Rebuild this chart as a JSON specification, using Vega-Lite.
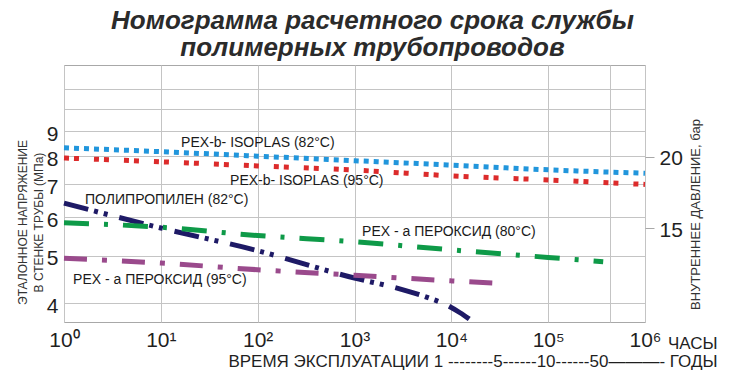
{
  "$schema": "https://vega.github.io/schema/vega-lite/v6.json",
  "width": 581,
  "height": 257,
  "autosize": {"type": "none"},
  "padding": {"left": 64, "top": 65, "right": 102, "bottom": 66},
  "background": "white",
  "config": {
    "view": {"stroke": "#a8a8a8", "strokeWidth": 1},
    "font": "Liberation Sans"
  },
  "title": {
    "text": ["Номограмма расчетного срока службы", "полимерных трубопроводов"],
    "font": "Liberation Sans",
    "fontSize": 26,
    "fontWeight": "bold",
    "fontStyle": "italic",
    "color": "#2b2b2b",
    "lineHeight": 27,
    "anchor": "middle",
    "frame": "group",
    "baseline": "bottom",
    "offset": 6,
    "dx": 18,
    "dy": 28
  },
  "datasets": {
    "curves": [
      {"series": "PEX-b ISOPLAS 82", "t": 1, "s": 8.32},
      {"series": "PEX-b ISOPLAS 82", "t": 10, "s": 8.17},
      {"series": "PEX-b ISOPLAS 82", "t": 100, "s": 8.0},
      {"series": "PEX-b ISOPLAS 82", "t": 1000, "s": 7.83},
      {"series": "PEX-b ISOPLAS 82", "t": 10000, "s": 7.67},
      {"series": "PEX-b ISOPLAS 82", "t": 100000, "s": 7.5},
      {"series": "PEX-b ISOPLAS 82", "t": 1000000, "s": 7.38},
      {"series": "PEX-b ISOPLAS 95", "t": 1, "s": 7.93},
      {"series": "PEX-b ISOPLAS 95", "t": 10, "s": 7.79},
      {"series": "PEX-b ISOPLAS 95", "t": 100, "s": 7.64},
      {"series": "PEX-b ISOPLAS 95", "t": 1000, "s": 7.49},
      {"series": "PEX-b ISOPLAS 95", "t": 10000, "s": 7.29},
      {"series": "PEX-b ISOPLAS 95", "t": 100000, "s": 7.15},
      {"series": "PEX-b ISOPLAS 95", "t": 1000000, "s": 7.0},
      {"series": "PP 82", "t": 1, "s": 6.41},
      {"series": "PP 82", "t": 10, "s": 5.7},
      {"series": "PP 82", "t": 100, "s": 5.12},
      {"series": "PP 82", "t": 1000, "s": 4.5},
      {"series": "PP 82", "t": 2750, "s": 4.29},
      {"series": "PP 82", "t": 6000, "s": 4.09},
      {"series": "PP 82", "t": 9000, "s": 3.96},
      {"series": "PP 82", "t": 12300, "s": 3.82},
      {"series": "PP 82", "t": 15300, "s": 3.71},
      {"series": "PEX-a 80", "t": 1, "s": 5.84},
      {"series": "PEX-a 80", "t": 10, "s": 5.72},
      {"series": "PEX-a 80", "t": 100, "s": 5.5},
      {"series": "PEX-a 80", "t": 1000, "s": 5.34},
      {"series": "PEX-a 80", "t": 10000, "s": 5.14},
      {"series": "PEX-a 80", "t": 100000, "s": 4.96},
      {"series": "PEX-a 80", "t": 370000, "s": 4.86},
      {"series": "PEX-a 95", "t": 1, "s": 4.94},
      {"series": "PEX-a 95", "t": 10, "s": 4.83},
      {"series": "PEX-a 95", "t": 100, "s": 4.68},
      {"series": "PEX-a 95", "t": 1000, "s": 4.56},
      {"series": "PEX-a 95", "t": 10000, "s": 4.44},
      {"series": "PEX-a 95", "t": 30000, "s": 4.39}
    ],
    "labels": [
      {"label": "PEX-b- ISOPLAS (82°C)", "t": 16.2, "s": 8.53},
      {"label": "PEX-b- ISOPLAS (95°C)", "t": 51.9, "s": 7.11},
      {"label": "ПОЛИПРОПИЛЕН  (82°C)", "t": 1.65, "s": 6.5},
      {"label": "PEX - a ПЕРОКСИД (80°C)", "t": 1198, "s": 5.58},
      {"label": "PEX - a ПЕРОКСИД (95°C)", "t": 1.24, "s": 4.46}
    ],
    "pressure": [{"p": 15}, {"p": 20}]
  },
  "layer": [
    {
      "encoding": {
        "x": {
          "field": "t",
          "type": "quantitative",
          "scale": {"type": "log", "domain": [1, 1000000], "nice": false},
          "axis": {
            "values": [1, 10, 100, 1000, 10000, 100000, 438000, 1000000],
            "labelExpr": "datum.value == 438000 ? '' : '10' + ['⁰','¹','²','³','⁴','⁵','⁶'][round(log(datum.value)/LN10)]",
            "labelFontSize": 21,
            "labelColor": "#1f1f1f",
            "labelPadding": 7,
            "labelFlush": false,
            "labelOverlap": false,
            "ticks": false,
            "domain": false,
            "grid": true,
            "gridColor": "#c4c4c4",
            "title": ["ЧАСЫ", "ВРЕМЯ ЭКСПЛУАТАЦИИ 1 --------5------10------50———-  ГОДЫ"],
            "titleAlign": "right",
            "titleAnchor": "start",
            "titleX": 653,
            "titleY": 26,
            "titleBaseline": "alphabetic",
            "titleFont": "Liberation Sans",
            "titleFontSize": 17,
            "titleFontWeight": "normal",
            "titleColor": "#1f1f1f",
            "titleLineHeight": 18
          }
        },
        "y": {
          "field": "s",
          "type": "quantitative",
          "scale": {"type": "log", "domain": [3.657, 12.3], "nice": false},
          "axis": {
            "values": [4, 5, 6, 7, 8, 9, 10, 11],
            "labelExpr": "datum.value > 9 ? '' : format(datum.value, 'd')",
            "labelFontSize": 21,
            "labelColor": "#1f1f1f",
            "labelPadding": 6,
            "labelOffset": 3,
            "ticks": false,
            "domain": false,
            "grid": true,
            "gridColor": "#c4c4c4",
            "title": ["ЭТАЛОННОЕ НАПРЯЖЕНИЕ", "В СТЕНКЕ ТРУБЫ (МПа)"],
            "titleAngle": 270,
            "titleX": -42,
            "titleY": 157,
            "titleAlign": "center",
            "titleBaseline": "middle",
            "titleFontSize": 12,
            "titleFontWeight": "normal",
            "titleColor": "#333333",
            "titleLineHeight": 16
          }
        }
      },
      "layer": [
        {
          "data": {"name": "curves"},
          "mark": {"type": "line", "strokeWidth": 5, "interpolate": "monotone"},
          "encoding": {
            "color": {
              "field": "series",
              "type": "nominal",
              "scale": {
                "domain": ["PEX-b ISOPLAS 82", "PEX-b ISOPLAS 95", "PP 82", "PEX-a 80", "PEX-a 95"],
                "range": ["#2196dc", "#dc2b2b", "#1e1a66", "#0e9a48", "#9a4a8c"]
              },
              "legend": null
            },
            "strokeDash": {
              "field": "series",
              "type": "nominal",
              "scale": {
                "domain": ["PEX-b ISOPLAS 82", "PEX-b ISOPLAS 95", "PP 82", "PEX-a 80", "PEX-a 95"],
                "range": [[5, 5], [5, 5, 5, 15], [25, 6, 4, 6, 4, 12], [25, 15, 4, 15], [23, 15, 5, 15]]
              },
              "legend": null
            }
          }
        },
        {
          "data": {"name": "labels"},
          "mark": {"type": "text", "align": "left", "baseline": "middle", "fontSize": 14, "color": "#1a1a1a", "font": "Liberation Sans"},
          "encoding": {
            "text": {"field": "label", "type": "nominal"}
          }
        }
      ]
    },
    {
      "data": {"name": "pressure"},
      "mark": {"type": "point", "opacity": 0},
      "encoding": {
        "y": {
          "field": "p",
          "type": "quantitative",
          "scale": {"domain": [8.41, 26.43], "nice": false, "zero": false},
          "axis": {
            "orient": "right",
            "values": [15, 20],
            "grid": false,
            "domain": false,
            "ticks": true,
            "tickSize": 9,
            "tickColor": "#a8a8a8",
            "labelFontSize": 21,
            "labelColor": "#1f1f1f",
            "labelPadding": 5,
            "labelOffset": 2,
            "title": "ВНУТРЕННЕЕ ДАВЛЕНИЕ, бар",
            "titleAngle": 270,
            "titleX": 50,
            "titleY": 149,
            "titleAlign": "center",
            "titleBaseline": "middle",
            "titleFontSize": 13,
            "titleFontWeight": "normal",
            "titleColor": "#333333"
          }
        }
      }
    }
  ],
  "resolve": {"scale": {"y": "independent"}}
}
